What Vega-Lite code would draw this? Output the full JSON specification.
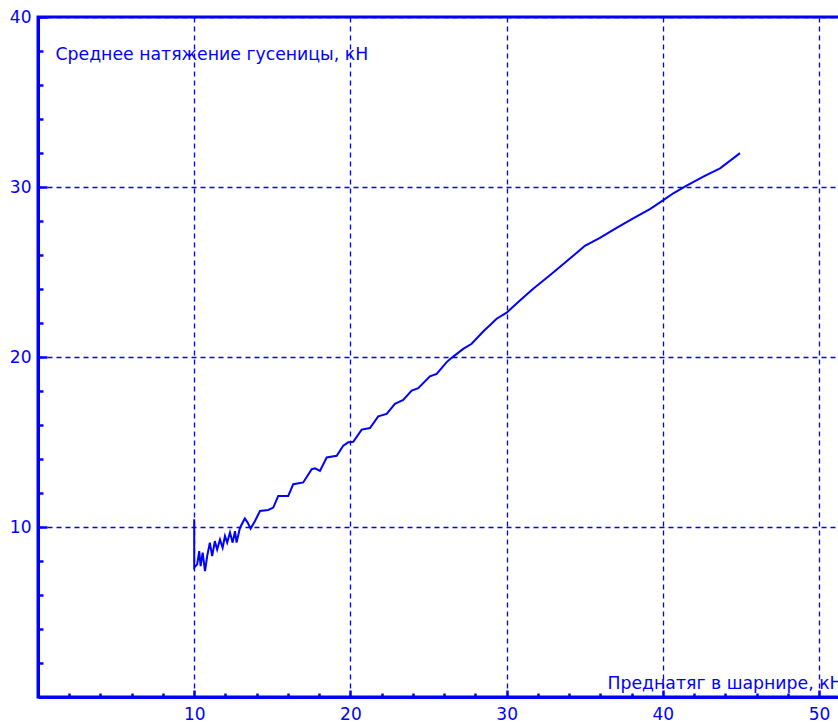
{
  "$schema": "https://vega.github.io/schema/vega-lite/v6.json",
  "width": 802,
  "height": 680,
  "autosize": "none",
  "padding": {"left": 38, "top": 17, "right": 0, "bottom": 25},
  "background": "white",
  "config": {"view": {"stroke": "#0000ff", "strokeWidth": 3}, "font": "DejaVu Sans"},
  "data": {"values": [
    {"x": 10.0, "y": 10.45}, {"x": 10.0, "y": 7.62}, {"x": 10.19, "y": 7.8}, {"x": 10.32, "y": 8.58},
    {"x": 10.41, "y": 7.7}, {"x": 10.54, "y": 8.49}, {"x": 10.69, "y": 7.4}, {"x": 10.83, "y": 8.29},
    {"x": 11.0, "y": 9.08}, {"x": 11.15, "y": 8.29}, {"x": 11.32, "y": 9.17}, {"x": 11.47, "y": 8.68},
    {"x": 11.65, "y": 9.27}, {"x": 11.82, "y": 8.78}, {"x": 11.97, "y": 9.47}, {"x": 12.11, "y": 9.08},
    {"x": 12.29, "y": 9.67}, {"x": 12.46, "y": 9.08}, {"x": 12.61, "y": 9.76}, {"x": 12.71, "y": 9.08},
    {"x": 12.93, "y": 9.96}, {"x": 13.24, "y": 10.5}, {"x": 13.42, "y": 10.26}, {"x": 13.61, "y": 9.91},
    {"x": 13.89, "y": 10.35}, {"x": 14.21, "y": 10.94}, {"x": 14.74, "y": 11.0}, {"x": 15.06, "y": 11.14},
    {"x": 15.38, "y": 11.83}, {"x": 16.02, "y": 11.83}, {"x": 16.34, "y": 12.52}, {"x": 16.98, "y": 12.62},
    {"x": 17.52, "y": 13.4}, {"x": 17.73, "y": 13.45}, {"x": 18.05, "y": 13.3}, {"x": 18.48, "y": 14.09},
    {"x": 19.12, "y": 14.19}, {"x": 19.54, "y": 14.78}, {"x": 19.86, "y": 14.98}, {"x": 20.18, "y": 15.01},
    {"x": 20.72, "y": 15.73}, {"x": 21.25, "y": 15.82}, {"x": 21.78, "y": 16.51}, {"x": 22.32, "y": 16.65},
    {"x": 22.85, "y": 17.24}, {"x": 23.38, "y": 17.47}, {"x": 23.92, "y": 18.02}, {"x": 24.34, "y": 18.17},
    {"x": 25.09, "y": 18.86}, {"x": 25.52, "y": 19.01}, {"x": 26.16, "y": 19.7}, {"x": 26.48, "y": 19.95},
    {"x": 27.22, "y": 20.48}, {"x": 27.76, "y": 20.78}, {"x": 28.5, "y": 21.5}, {"x": 29.36, "y": 22.25},
    {"x": 30.0, "y": 22.61}, {"x": 30.85, "y": 23.33}, {"x": 31.7, "y": 24.02}, {"x": 32.77, "y": 24.81},
    {"x": 34.05, "y": 25.79}, {"x": 35.01, "y": 26.54}, {"x": 35.97, "y": 27.01}, {"x": 37.04, "y": 27.6},
    {"x": 38.1, "y": 28.15}, {"x": 39.17, "y": 28.7}, {"x": 40.03, "y": 29.23}, {"x": 40.67, "y": 29.63},
    {"x": 41.52, "y": 30.08}, {"x": 42.59, "y": 30.61}, {"x": 43.66, "y": 31.1}, {"x": 44.94, "y": 31.99}
  ]},
  "layer": [
    {
      "mark": {"type": "line", "color": "#0000ff", "strokeWidth": 2},
      "encoding": {
        "order": {"value": null},
        "x": {
          "field": "x", "type": "quantitative",
          "scale": {"domain": [0, 51.34], "nice": false, "zero": false},
          "axis": {
            "orient": "bottom", "values": [10, 20, 30, 40, 50],
            "grid": true, "gridColor": "#0000ff", "gridDash": [5, 4], "gridWidth": 1.3, "gridOpacity": 1,
            "domainColor": "#0000ff", "domainWidth": 3,
            "tickColor": "#0000ff", "tickSize": -7, "tickWidth": 2.5,
            "labelColor": "#0000ff", "labelFontSize": 17, "labelFont": "DejaVu Sans", "labelPadding": 16,
            "labelFlush": false, "labelOverlap": false,
            "title": "Преднатяг в шарнире, кН", "titleColor": "#0000ff", "titleFont": "DejaVu Sans",
            "titleFontSize": 17.3, "titleFontWeight": "normal", "titleAlign": "left", "titleAnchor": "start",
            "titleX": 569, "titleY": -9, "titleBaseline": "alphabetic"
          }
        },
        "y": {
          "field": "y", "type": "quantitative",
          "scale": {"domain": [0, 40], "nice": false, "zero": false},
          "axis": {
            "orient": "left", "values": [10, 20, 30, 40],
            "grid": true, "gridColor": "#0000ff", "gridDash": [5, 4], "gridWidth": 1.3, "gridOpacity": 1,
            "domainColor": "#0000ff", "domainWidth": 3,
            "tickColor": "#0000ff", "tickSize": -9, "tickWidth": 2.5,
            "labelColor": "#0000ff", "labelFontSize": 17, "labelFont": "DejaVu Sans", "labelPadding": 16,
            "labelFlush": false, "labelOverlap": false,
            "title": "Среднее натяжение гусеницы, кН", "titleColor": "#0000ff", "titleFont": "DejaVu Sans",
            "titleFontSize": 17.3, "titleFontWeight": "normal", "titleAngle": 0, "titleAlign": "left",
            "titleAnchor": "start", "titleX": 17, "titleY": 37, "titleBaseline": "middle"
          }
        }
      }
    },
    {
      "mark": {"type": "line", "opacity": 0},
      "encoding": {
        "order": {"value": null},
        "x": {
          "field": "x", "type": "quantitative",
          "axis": {
            "orient": "bottom", "values": [2, 4, 6, 8, 12, 14, 16, 18, 22, 24, 26, 28, 32, 34, 36, 38, 42, 44, 46, 48],
            "grid": false, "domain": false, "labels": false, "title": null,
            "tickColor": "#0000ff", "tickSize": -4, "tickWidth": 2.5
          }
        },
        "y": {
          "field": "y", "type": "quantitative",
          "axis": {
            "orient": "left", "values": [2, 4, 6, 8, 12, 14, 16, 18, 22, 24, 26, 28, 32, 34, 36, 38],
            "grid": false, "domain": false, "labels": false, "title": null,
            "tickColor": "#0000ff", "tickSize": -5, "tickWidth": 2.5
          }
        }
      }
    }
  ],
  "resolve": {"axis": {"x": "independent", "y": "independent"}}
}
